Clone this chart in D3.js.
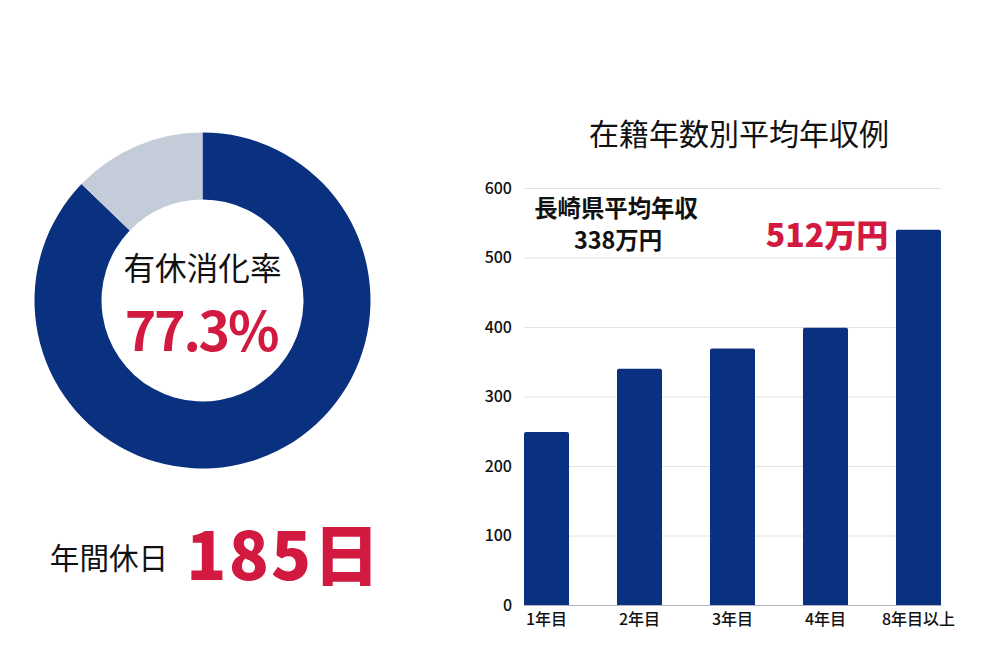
<!DOCTYPE html>
<html lang="ja">
<head>
<meta charset="utf-8">
<title>在籍年数別平均年収例</title>
<script src="https://d3js.org/d3.v7.min.js"></script>
<style>
  html, body { margin: 0; padding: 0; background: #fff; }
  svg { display: block; }
  text { font-family: "Noto Sans CJK JP", "Noto Sans", sans-serif; }
  .domain { stroke: #b0b3c0; }
</style>
</head>
<body>
<script>
var years = ["1年目", "2年目", "3年目", "4年目", "8年目以上"];
var salaries = [249, 340, 369, 399, 540];
var salaryTicks = [0, 100, 200, 300, 400, 500, 600];
var donutValues = [87.2, 12.8];

var navy = "#0a3180", pale = "#c4ccd9", red = "#d21a40", ink = "#111";
var svg = d3.select("body").append("svg").attr("width", 1000).attr("height", 666);

// donut
var pie = d3.pie().sort(null);
var arc = d3.arc().innerRadius(101).outerRadius(168);
var donut = svg.append("g").attr("transform", "translate(202.5,300.5)");
donut.selectAll("path")
  .data(pie(donutValues))
  .enter().append("path")
  .attr("d", arc)
  .attr("fill", function(d, i) { return i == 0 ? navy : pale; });

function label(x, y, str, size, weight, color, anchor) {
  return svg.append("text").attr("x", x).attr("y", y).text(str)
    .attr("font-size", size).attr("font-weight", weight)
    .attr("fill", color).attr("text-anchor", anchor || "middle");
}

label(202.5, 280, "有休消化率", 31.6, 400, ink);
label(201, 351, "77.3%", 53.5, 700, red).attr("letter-spacing", -2.2);
label(109, 569, "年間休日", 29.6, 400, ink);
label(284, 580, "185日", 66, 900, red).attr("letter-spacing", 2.2);

// bar chart
var x = d3.scaleBand().domain(years).range([524, 941]).paddingInner(0.516).paddingOuter(0);
var y = d3.scaleLinear().domain([0, 600]).range([605, 188]);

var yAxis = svg.append("g").attr("transform", "translate(524,0)")
  .call(d3.axisLeft(y).tickValues(salaryTicks).tickSize(-417).tickPadding(12));
yAxis.select(".domain").remove();
yAxis.selectAll(".tick line").attr("stroke", "#e2e2e2");
yAxis.selectAll(".tick text").attr("fill", ink).attr("font-size", 16).attr("font-weight", 500);

svg.selectAll(".bar")
  .data(salaries)
  .enter().append("path")
  .attr("class", "bar")
  .attr("fill", navy)
  .attr("d", function(d, i) {
    var left = x(years[i]), w = x.bandwidth(), top = y(d), r = 2;
    return "M" + left + "," + y(0) + "V" + (top + r) + "Q" + left + "," + top + " " + (left + r) + "," + top +
      "H" + (left + w - r) + "Q" + (left + w) + "," + top + " " + (left + w) + "," + (top + r) + "V" + y(0) + "Z";
  });

var xAxis = svg.append("g").attr("transform", "translate(0,605)")
  .call(d3.axisBottom(x).tickSize(0).tickPadding(9));
xAxis.selectAll(".tick text").attr("fill", ink).attr("font-size", 16).attr("font-weight", 500);

label(739, 145, "在籍年数別平均年収例", 30, 400, ink);
label(616, 217, "長崎県平均年収", 23.4, 700, ink);
label(618, 249, "338万円", 23.4, 700, ink);
label(827, 247, "512万円", 32, 900, red);
</script>
</body>
</html>
